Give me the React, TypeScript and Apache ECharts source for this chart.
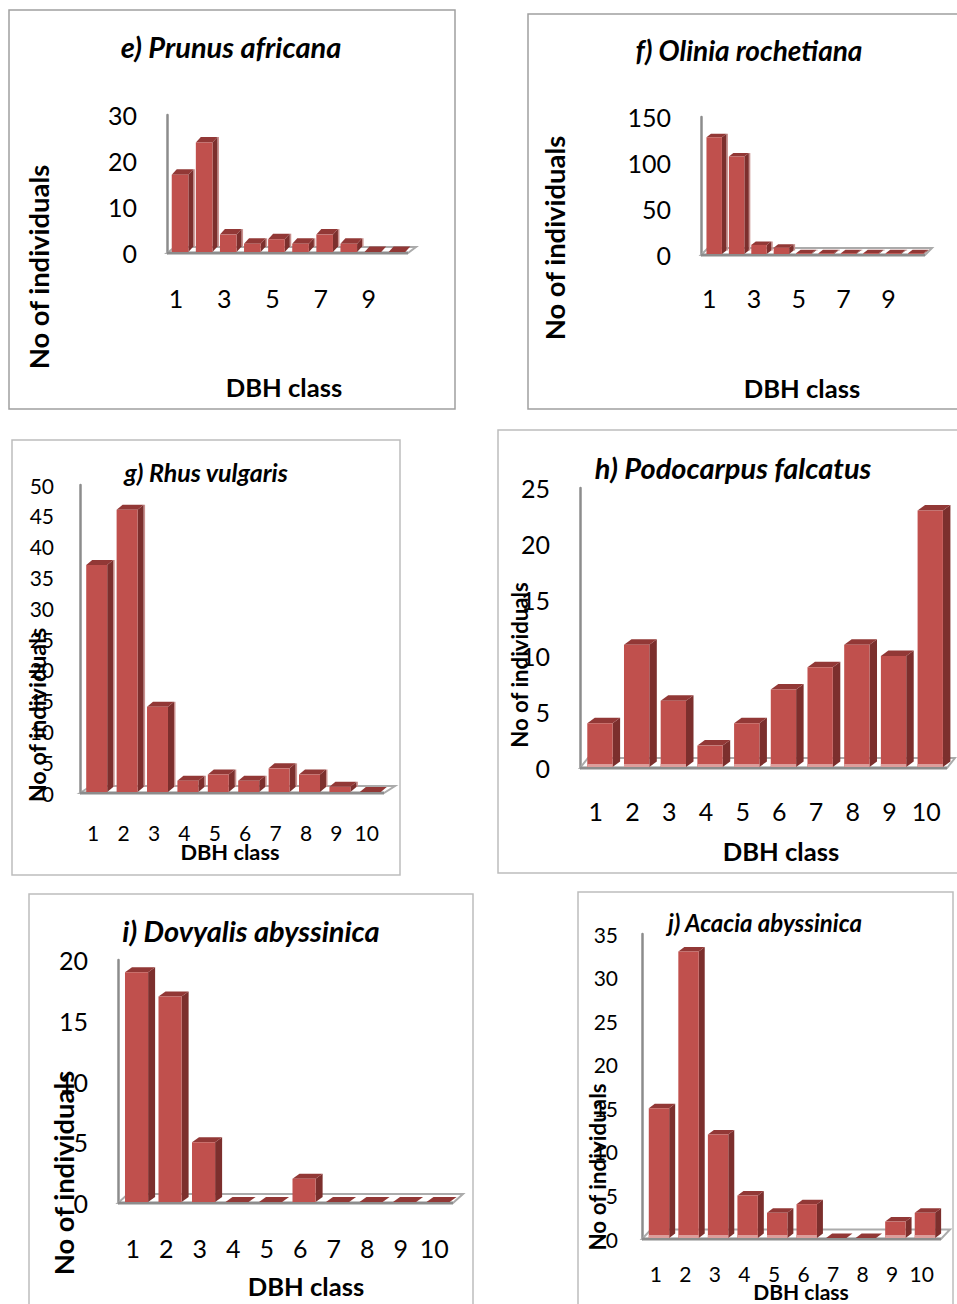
import React, { useEffect, useRef } from "react";
import * as echarts from "echarts";

// Stem counts per DBH class for each species
const classes = ["1", "2", "3", "4", "5", "6", "7", "8", "9", "10"];
const prunusAfricana = [17, 24, 4, 2, 3, 2, 4, 2, 0, 0];
const oliniaRochetiana = [128, 107, 11, 8, 2, 2, 2, 2, 2, 2];
const rhusVulgaris = [37, 46, 14, 2, 3, 2, 4, 3, 1, 0];
const podocarpusFalcatus = [4, 11, 6, 2, 4, 7, 9, 11, 10, 23];
const dovyalisAbyssinica = [19, 17, 5, 0, 0, 2, 0, 0, 0, 0];
const acaciaAbyssinica = [15, 33, 12, 5, 3, 4, 0, 0, 2, 3];

const FONT = "Lato";
const FRONT = "#C0504D";
const SIDE = "#7C2F2D";
const TOP = "#923836";
const AXIS = "#8C8C8C";

interface Panel {
  title: string;
  values: number[];
  max: number;
  step: number;
  labelEvery: number;
  frame: [number, number, number, number, string];
  plot: [number, number, number, number]; // left, top, right, bottom
  tickSize: number;
  yMargin: number;
  xMargin: number;
  labelShift: number;
  barShift: number;
  depth: [number, number];
  floor: [number, number];
  floorExtra: number;
  titlePos: [number, number, number];
  yName: [number, number, number];
  xName: [number, number, number];
  baseGlow: boolean;
  rim: boolean;
}

const panels: Panel[] = [
  {
    title: "e) Prunus africana", values: prunusAfricana, max: 30, step: 10, labelEvery: 1,
    frame: [9, 10, 455, 409, "#A0A0A0"], plot: [167, 115, 408, 253], tickSize: 25, yMargin: 30, xMargin: 32,
    labelShift: 3, barShift: 1, depth: [5, 5.5], floor: [8, 6], floorExtra: 0,
    titlePos: [231, 46, 29], yName: [38, 267, 27.4], xName: [284, 387, 25.6], baseGlow: false, rim: true,
  },
  {
    title: "f) Olinia rochetiana", values: oliniaRochetiana, max: 150, step: 50, labelEvery: 1,
    frame: [528, 14, 970, 409, "#A0A0A0"], plot: [701, 117, 925, 255], tickSize: 25, yMargin: 30, xMargin: 30,
    labelShift: 3, barShift: 2, depth: [4.5, 3.5], floor: [7, 7], floorExtra: 0,
    titlePos: [749, 50, 28], yName: [554, 238, 27.4], xName: [802, 388, 25.6], baseGlow: false, rim: true,
  },
  {
    title: "g) Rhus vulgaris", values: rhusVulgaris, max: 50, step: 5, labelEvery: 0,
    frame: [12, 440, 400, 875, "#BDBDBD"], plot: [80, 485, 384, 793], tickSize: 21, yMargin: 26, xMargin: 29,
    labelShift: 2, barShift: 1.5, depth: [6, 5], floor: [11, 7], floorExtra: 0,
    titlePos: [206, 472, 25], yName: [37, 715, 23.4], xName: [230, 851, 21.8], baseGlow: false, rim: true,
  },
  {
    title: "h) Podocarpus falcatus", values: podocarpusFalcatus, max: 25, step: 5, labelEvery: 0,
    frame: [498, 430, 970, 873, "#BDBDBD"], plot: [580, 488, 947, 768], tickSize: 25, yMargin: 30, xMargin: 30,
    labelShift: 2.5, barShift: 1.6, depth: [7.5, 5.5], floor: [8, 10], floorExtra: 0,
    titlePos: [733, 467, 29], yName: [519, 665, 22.2], xName: [781, 851, 25.6], baseGlow: true, rim: false,
  },
  {
    title: "i) Dovyalis abyssinica", values: dovyalisAbyssinica, max: 20, step: 5, labelEvery: 0,
    frame: [29, 894, 473, 1320, "#BDBDBD"], plot: [118, 960, 453, 1203], tickSize: 25, yMargin: 30, xMargin: 32,
    labelShift: 2, barShift: 1.8, depth: [7, 5], floor: [10, 9], floorExtra: 0,
    titlePos: [251, 930, 29], yName: [63, 1173, 27.4], xName: [306, 1286, 25.6], baseGlow: false, rim: false,
  },
  {
    title: "j) Acacia abyssinica", values: acaciaAbyssinica, max: 35, step: 5, labelEvery: 0,
    frame: [578, 892, 953, 1320, "#BDBDBD"], plot: [642, 934, 937.5, 1239], tickSize: 21, yMargin: 24, xMargin: 24,
    labelShift: 1, barShift: 2.2, depth: [6, 4.5], floor: [9, 9.5], floorExtra: 3.5,
    titlePos: [765, 922, 24], yName: [597, 1167, 22.4], xName: [801, 1291, 21], baseGlow: true, rim: false,
  },
];

// Floor of the 3D plot: a parallelogram behind the bars, with the heavy front edge
const renderFloor = (p: Panel) => (params: any) => {
  const cs = params.coordSys;
  const l = cs.x;
  const r = cs.x + cs.width + p.floorExtra;
  const b = cs.y + cs.height;
  const [dx, dy] = p.floor;
  return {
    type: "group",
    children: [
      {
        type: "polygon",
        shape: { points: [[l, b], [l + dx, b - dy], [r + dx, b - dy], [r, b]] },
        style: { fill: "#ffffff", stroke: "#ABABAB", lineWidth: 2 },
      },
      {
        type: "line",
        shape: { x1: l, y1: b, x2: r, y2: b },
        style: { stroke: AXIS, lineWidth: 3 },
      },
    ],
  };
};

// One extruded column: front face, top face and the shaded right side
const renderBar = (p: Panel) => (params: any, api: any) => {
  const idx = api.value(0);
  const [cx, top] = api.coord([idx, api.value(1)]);
  const [, axisY] = api.coord([idx, 0]);
  const band = api.size([1, 0])[0];
  const w = band * 0.69;
  const x1 = cx + p.barShift - w / 2;
  const x2 = x1 + w;
  const base = axisY - 1;
  const t = Math.min(top, base);
  const [dx, dy] = p.depth;
  const children: any[] = [];
  if (p.rim) {
    children.push({
      type: "polygon",
      shape: { points: [[x2 + dx, t - dy], [x2 + dx + 1.5, t - dy], [x2 + dx + 1.5, base - dy], [x2 + dx, base - dy]] },
      style: { fill: "#C9908E" },
    });
  }
  children.push(
    {
      type: "polygon",
      shape: { points: [[x2, t], [x2 + dx, t - dy], [x2 + dx, base - dy], [x2, base]] },
      style: { fill: SIDE },
    },
    {
      type: "polygon",
      shape: { points: [[x1, t], [x1 + dx, t - dy], [x2 + dx, t - dy], [x2, t]] },
      style: { fill: TOP },
    },
    {
      type: "rect",
      shape: { x: x1, y: t, width: w, height: base - t },
      style: { fill: FRONT },
    },
  );
  if (p.baseGlow && base - t > 4) {
    children.push({
      type: "rect",
      shape: { x: x1, y: base - 3, width: w, height: 3 },
      style: { fill: "#DC9E9C" },
    });
  }
  return { type: "group", children };
};

const buildOption = () => {
  const gridOf = (p: Panel) => ({
    left: p.plot[0],
    top: p.plot[1],
    width: p.plot[2] - p.plot[0],
    height: p.plot[3] - p.plot[1],
    containLabel: false,
  });

  const labelStyle = (p: Panel) => ({
    fontFamily: FONT,
    fontSize: p.tickSize,
    color: "#000000",
  });

  const graphics: any[] = [];
  panels.forEach((p) => {
    const [x0, y0, x1, y1, stroke] = p.frame;
    graphics.push({
      type: "rect",
      z: -10,
      shape: { x: x0, y: y0, width: x1 - x0, height: y1 - y0 },
      style: { fill: "#ffffff", stroke, lineWidth: 1.5 },
    });
    graphics.push({
      type: "text",
      x: p.titlePos[0],
      y: p.titlePos[1],
      style: {
        text: p.title,
        font: `italic bold ${p.titlePos[2]}px ${FONT}`,
        fill: "#000000",
        textAlign: "center",
        textVerticalAlign: "middle",
      },
    });
    graphics.push({
      type: "text",
      x: p.yName[0],
      y: p.yName[1],
      rotation: Math.PI / 2,
      z: 20,
      style: {
        text: "No of individuals",
        font: `bold ${p.yName[2]}px ${FONT}`,
        fill: "#000000",
        textAlign: "center",
        textVerticalAlign: "middle",
      },
    });
    graphics.push({
      type: "text",
      x: p.xName[0],
      y: p.xName[1],
      style: {
        text: "DBH class",
        font: `bold ${p.xName[2]}px ${FONT}`,
        fill: "#000000",
        textAlign: "center",
        textVerticalAlign: "middle",
      },
    });
  });

  return {
    animation: false,
    backgroundColor: "#ffffff",
    grid: panels.map(gridOf),
    xAxis: panels.map((p, i) => ({
      type: "category",
      gridIndex: i,
      data: classes,
      boundaryGap: true,
      axisLine: { show: false },
      axisTick: { show: false },
      axisLabel: {
        ...labelStyle(p),
        interval: p.labelEvery,
        margin: p.xMargin,
        padding: [0, p.labelShift * 2, 0, 0],
      },
      splitLine: { show: false },
    })),
    yAxis: panels.map((p, i) => ({
      type: "value",
      gridIndex: i,
      min: 0,
      max: p.max,
      interval: p.step,
      axisLine: { show: true, lineStyle: { color: AXIS, width: 2.5 } },
      axisTick: { show: false },
      axisLabel: { ...labelStyle(p), margin: p.yMargin, padding: [0, 0, 6, 0] },
      splitLine: { show: false },
    })),
    series: panels.flatMap((p, i) => [
      {
        type: "custom",
        xAxisIndex: i,
        yAxisIndex: i,
        silent: true,
        z: 1,
        renderItem: renderFloor(p),
        data: [[0, 0]],
      },
      {
        type: "custom",
        name: p.title,
        xAxisIndex: i,
        yAxisIndex: i,
        z: 2,
        encode: { x: 0, y: 1 },
        renderItem: renderBar(p),
        data: p.values.map((v, k) => [k, v]),
      },
    ]),
    graphic: graphics,
  };
};

export default function App() {
  const ref = useRef<HTMLDivElement>(null);
  useEffect(() => {
    const chart = echarts.init(ref.current!, undefined, { renderer: "svg" });
    chart.setOption(buildOption());
    return () => chart.dispose();
  }, []);
  return (
    <div
      ref={ref}
      style={{ position: "absolute", left: 0, top: 0, width: 957, height: 1304, overflow: "hidden" }}
    />
  );
}
